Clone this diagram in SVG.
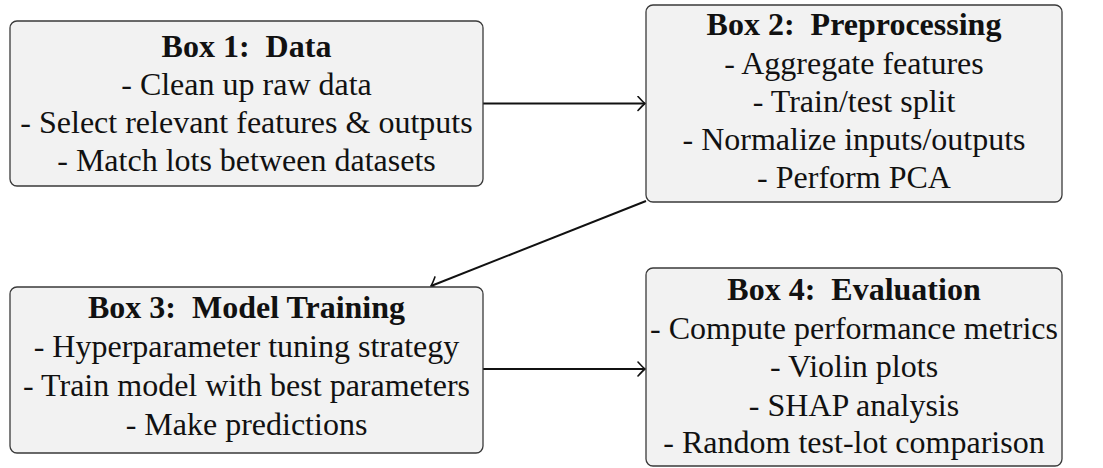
<svg xmlns="http://www.w3.org/2000/svg" width="1103" height="468" viewBox="0 0 1103 468">
  <style>
    .box { fill: #f2f2f2; stroke: #3a3a3a; stroke-width: 1.3; }
    .edge { fill: none; stroke: #111; stroke-width: 2; }
    .t { font-family: 'Liberation Serif', serif; font-size: 32px; fill: #111; text-anchor: middle; }
    .h { font-weight: bold; }
  </style>
  <defs>
    <!-- open, curved arrow tip -->
    <marker id="to" viewBox="-10 -8 12 16" markerWidth="12" markerHeight="16" refX="0" refY="0" orient="auto" markerUnits="userSpaceOnUse">
      <path d="M -7,-7 Q -2,-1.5 0,0 Q -2,1.5 -7,7" fill="none" stroke="#111" stroke-width="1.6" stroke-linecap="round"/>
    </marker>
  </defs>
  <rect width="1103" height="468" fill="#fff"/>

  <g id="connectors">
    <line class="edge" x1="483" y1="103.5" x2="645" y2="103.5" marker-end="url(#to)"/>
    <line class="edge" x1="646" y1="201" x2="431" y2="286" marker-end="url(#to)"/>
    <line class="edge" x1="483" y1="369" x2="645" y2="369" marker-end="url(#to)"/>
  </g>

  <g id="box1">
    <rect class="box" x="10" y="21" width="473" height="165" rx="7"/>
    <text class="t h" x="246.5" y="57">Box 1:&#160; Data</text>
    <text class="t" x="246.5" y="95">- Clean up raw data</text>
    <text class="t" x="246.5" y="133">- Select relevant features &amp; outputs</text>
    <text class="t" x="246.5" y="171">- Match lots between datasets</text>
  </g>

  <g id="box2">
    <rect class="box" x="646" y="5" width="416" height="197" rx="7"/>
    <text class="t h" x="854" y="35">Box 2:&#160; Preprocessing</text>
    <text class="t" x="854" y="74">- Aggregate features</text>
    <text class="t" x="854" y="112">- Train/test split</text>
    <text class="t" x="854" y="150">- Normalize inputs/outputs</text>
    <text class="t" x="854" y="188">- Perform PCA</text>
  </g>

  <g id="box3">
    <rect class="box" x="10" y="287" width="473" height="166" rx="7"/>
    <text class="t h" x="246.5" y="318">Box 3:&#160; Model Training</text>
    <text class="t" x="246.5" y="357">- Hyperparameter tuning strategy</text>
    <text class="t" x="246.5" y="396">- Train model with best parameters</text>
    <text class="t" x="246.5" y="435">- Make predictions</text>
  </g>

  <g id="box4">
    <rect class="box" x="646" y="268" width="416" height="198" rx="7"/>
    <text class="t h" x="854" y="300">Box 4:&#160; Evaluation</text>
    <text class="t" x="854" y="339">- Compute performance metrics</text>
    <text class="t" x="854" y="377">- Violin plots</text>
    <text class="t" x="854" y="416">- SHAP analysis</text>
    <text class="t" x="854" y="453">- Random test-lot comparison</text>
  </g>
</svg>
